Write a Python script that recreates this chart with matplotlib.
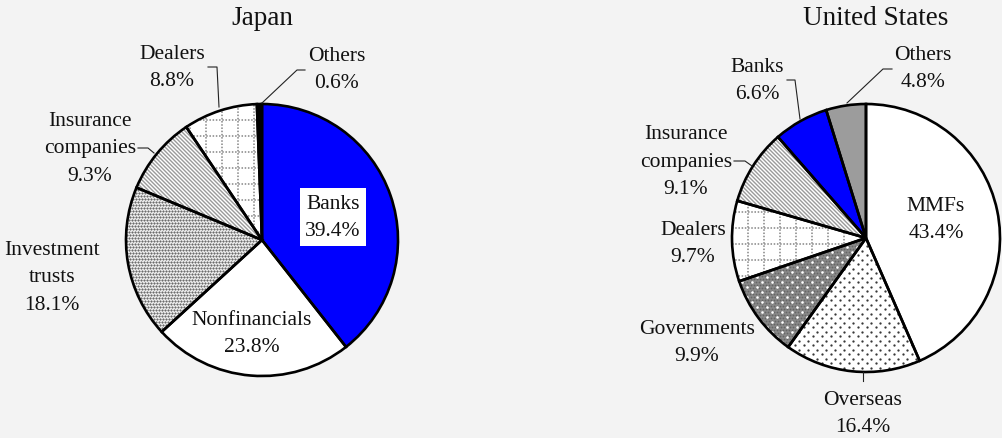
import numpy as np
import matplotlib.pyplot as plt
from matplotlib.collections import LineCollection
from matplotlib.patches import Wedge

plt.rcParams['font.family'] = ['Liberation Serif', 'DejaVu Serif']

W, H = 1002, 439

# holders of the securities, clockwise from 12 o'clock
jp_sectors = ['Banks', 'Nonfinancials', 'Investment\ntrusts',
              'Insurance\ncompanies', 'Dealers', 'Others']
jp_shares = [39.4, 23.8, 18.1, 9.3, 8.8, 0.6]

us_sectors = ['MMFs', 'Overseas', 'Governments', 'Dealers',
              'Insurance\ncompanies', 'Banks', 'Others']
us_shares = [43.4, 16.4, 9.9, 9.7, 9.1, 6.6, 4.8]

# fill style per sector
fills = {
    'Banks': 'blue', 'Nonfinancials': 'plain', 'MMFs': 'plain',
    'Investment\ntrusts': 'fine', 'Insurance\ncompanies': 'stripes',
    'Dealers': 'grid', 'Overseas': 'sparse', 'Governments': 'dark',
}
base = {'blue': '#0000ff', 'plain': 'white', 'fine': 'white',
        'stripes': 'white', 'grid': 'white', 'sparse': 'white',
        'dark': '#8a8a8a', 'black': 'black', 'gray': '#9c9c9c'}

# pixel layout (y measured from the top)
panels = [
    dict(title='Japan', title_xy=(262, 18), center=(262, 241), radius=136,
         sectors=jp_sectors, shares=jp_shares, others='black',
         text_xy=[(333, 218), (252, 334), (52, 278), (90, 149),
                  (172, 68), (337, 70)],
         boxed=['Banks'],
         leaders=[[(138, 149), (148, 149), (154, 154)],
                  [(208, 68), (217, 68), (219, 108)],
                  [(305, 71), (297, 71), (262, 104)]]),
    dict(title='United States', title_xy=(876, 18), center=(866, 239),
         radius=134, sectors=us_sectors, shares=us_shares, others='gray',
         text_xy=[(936, 220), (863, 414), (697, 343), (693, 244),
                  (686, 162), (757, 81), (923, 69)],
         boxed=[],
         leaders=[[(734, 162), (745, 162), (752, 167)],
                  [(787, 81), (795, 81), (800, 120)],
                  [(892, 70), (883, 70), (847, 104)],
                  [(863, 373), (863, 382)]]),
]


def dot_lattice(ax, cx, cy, r, dx, dy, size_px, color):
    xs, ys = [], []
    for i, y in enumerate(np.arange(cy - r, cy + r + dy, dy)):
        row = np.arange(cx - r + (dx / 2) * (i % 2), cx + r + dx, dx)
        xs.append(row)
        ys.append(np.full_like(row, y))
    s = (size_px * 0.72) ** 2
    return ax.scatter(np.concatenate(xs), np.concatenate(ys), s=s,
                      c=color, marker='o', linewidths=0, zorder=2)


def add_texture(ax, w, kind):
    cx, cy = w.center
    r = w.r
    arts = []
    if kind == 'fine':
        arts.append(dot_lattice(ax, cx, cy, r, 3, 3, 2.3, '#6c6c6c'))
    elif kind == 'sparse':
        arts.append(dot_lattice(ax, cx, cy, r, 9, 4.5, 2.3, '#383838'))
    elif kind == 'dark':
        arts.append(dot_lattice(ax, cx, cy, r, 3, 3, 1.8, '#666666'))
        arts.append(dot_lattice(ax, cx, cy, r, 10, 5, 2.6, 'white'))
    elif kind == 'stripes':
        segs = [[(cx - r, c - (cx - r)), (cx + r, c - (cx + r))]
                for c in np.arange(cx + cy - 2 * r, cx + cy + 2 * r, 4)]
        arts.append(ax.add_collection(LineCollection(
            segs, colors='#9a9a9a', linewidths=1.0, zorder=2)))
    elif kind == 'grid':
        steps = np.arange(-r, r, 16)
        segs = [[(cx + d, cy - r), (cx + d, cy + r)] for d in steps]
        segs += [[(cx - r, cy + d), (cx + r, cy + d)] for d in steps]
        arts.append(ax.add_collection(LineCollection(
            segs, colors='#858585', linewidths=1.1,
            linestyles=[(0, (1, 1.1))], zorder=2)))
    for a in arts:
        a.set_clip_path(w)


fig = plt.figure(figsize=(W / 100, H / 100), dpi=100, facecolor='#f3f3f3')
ax = fig.add_axes([0, 0, 1, 1])

for p in panels:
    kinds = [fills[s] if s != 'Others' else p['others']
             for s in p['sectors']]
    cx, cy = p['center']
    wedges, _ = ax.pie(p['shares'], colors=[base[k] for k in kinds],
                       startangle=90, counterclock=False,
                       center=(cx, H - cy), radius=p['radius'],
                       wedgeprops=dict(linewidth=0, zorder=1))
    for w, k in zip(wedges, kinds):
        add_texture(ax, w, k)
        ax.add_patch(Wedge(w.center, w.r, w.theta1, w.theta2, fill=False,
                           ec='black', lw=1.9, zorder=3))

    for name, share, (tx, ty) in zip(p['sectors'], p['shares'],
                                     p['text_xy']):
        box = None
        if name in p['boxed']:
            box = dict(boxstyle='square,pad=0.25', fc='white', ec='none')
        ax.text(tx, H - ty, f'{name}\n{share:.1f}%', ha='center',
                va='center', multialignment='center', fontsize=15.5,
                linespacing=1.6, color='#111111', bbox=box, zorder=4)

    for line in p['leaders']:
        xs, ys = zip(*line)
        ax.plot(xs, [H - y for y in ys], color='#222222', lw=0.8, zorder=4)

    tx, ty = p['title_xy']
    ax.text(tx, H - ty, p['title'], ha='center', va='center', fontsize=19.5,
            color='#111111')

ax.set_xlim(0, W)
ax.set_ylim(0, H)
ax.set_aspect('auto')
ax.axis('off')

fig.savefig('out.png', dpi=100, facecolor=fig.get_facecolor())
